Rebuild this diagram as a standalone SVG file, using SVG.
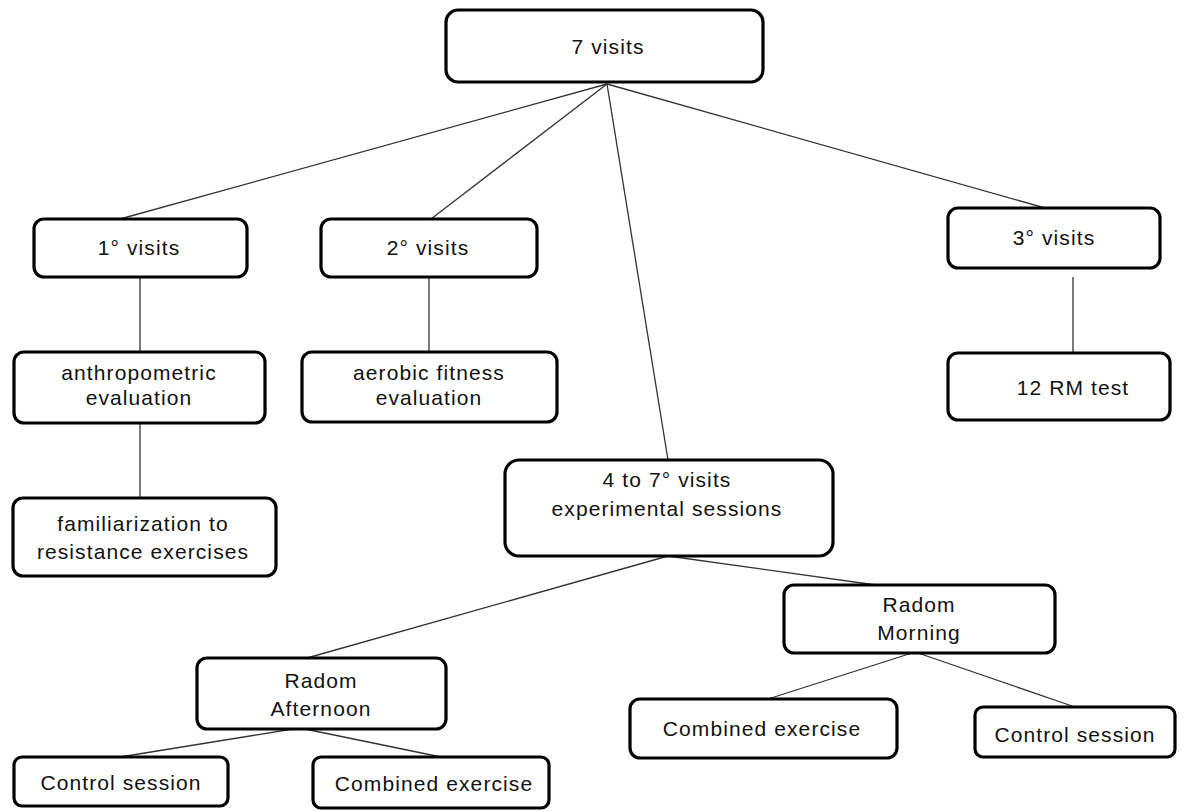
<svg xmlns="http://www.w3.org/2000/svg" width="1187" height="811" viewBox="0 0 1187 811">
<style>
.box{fill:#fff;stroke:#000;stroke-width:3.2}
.t{font-family:"Liberation Sans",Arial,sans-serif;font-size:21px;letter-spacing:1.1px;fill:#111;text-anchor:middle}
.c line{stroke:#333;stroke-width:1.3}
</style>
<rect width="1187" height="811" fill="#fff"/>
<g class="c" id="connectors">
<line x1="607" y1="84" x2="120" y2="219"/>
<line x1="607" y1="84" x2="431" y2="219"/>
<line x1="607" y1="84" x2="668" y2="460"/>
<line x1="607" y1="84" x2="1045" y2="208"/>
<line x1="140" y1="277" x2="140" y2="352"/>
<line x1="429" y1="277" x2="429" y2="352"/>
<line x1="1073" y1="277" x2="1073" y2="353"/>
<line x1="140" y1="423" x2="140" y2="498"/>
<line x1="668" y1="556" x2="307" y2="658"/>
<line x1="668" y1="556" x2="876" y2="585"/>
<line x1="293" y1="729" x2="120" y2="757"/>
<line x1="305" y1="729" x2="441" y2="757"/>
<line x1="912" y1="653" x2="768" y2="699"/>
<line x1="918" y1="653" x2="1075" y2="707"/>
</g>
<g id="n7visits"><rect class="box" x="446" y="10" width="317" height="72" rx="12"/><text class="t" x="608" y="54">7 visits</text></g>
<g id="n1visits"><rect class="box" x="34" y="219" width="213" height="58" rx="10"/><text class="t" x="139" y="255">1° visits</text></g>
<g id="n2visits"><rect class="box" x="321" y="219" width="216" height="58" rx="10"/><text class="t" x="428" y="255">2° visits</text></g>
<g id="n3visits"><rect class="box" x="948" y="208" width="212" height="60" rx="10"/><text class="t" x="1054" y="245">3° visits</text></g>
<g id="nanthro"><rect class="box" x="14" y="352" width="251" height="71" rx="10"/><text class="t" x="139" y="380">anthropometric</text><text class="t" x="139" y="405">evaluation</text></g>
<g id="naerobic"><rect class="box" x="302" y="352" width="255" height="70" rx="10"/><text class="t" x="429" y="380">aerobic fitness</text><text class="t" x="429" y="405">evaluation</text></g>
<g id="n12rm"><rect class="box" x="948" y="353" width="222" height="67" rx="10"/><text class="t" x="1073" y="395">12 RM test</text></g>
<g id="nfamil"><rect class="box" x="13" y="498" width="263" height="78" rx="10"/><text class="t" x="143" y="531">familiarization  to</text><text class="t" x="143" y="559">resistance exercises</text></g>
<g id="n4to7"><rect class="box" x="505" y="460" width="328" height="96" rx="14"/><text class="t" x="667" y="487">4 to 7° visits</text><text class="t" x="667" y="516">experimental sessions</text></g>
<g id="nafternoon"><rect class="box" x="197" y="658" width="249" height="71" rx="10"/><text class="t" x="321" y="688">Radom</text><text class="t" x="321" y="716">Afternoon</text></g>
<g id="nmorning"><rect class="box" x="784" y="585" width="271" height="68" rx="10"/><text class="t" x="919" y="612">Radom</text><text class="t" x="919" y="640">Morning</text></g>
<g id="nctrlA"><rect class="box" x="14" y="757" width="214" height="49" rx="8"/><text class="t" x="121" y="790">Control session</text></g>
<g id="ncombA"><rect class="box" x="313" y="757" width="236" height="51" rx="8"/><text class="t" x="434" y="791">Combined exercise</text></g>
<g id="ncombM"><rect class="box" x="630" y="699" width="267" height="59" rx="10"/><text class="t" x="762" y="736">Combined exercise</text></g>
<g id="nctrlM"><rect class="box" x="975" y="707" width="200" height="50" rx="8"/><text class="t" x="1075" y="742">Control session</text></g>
</svg>
